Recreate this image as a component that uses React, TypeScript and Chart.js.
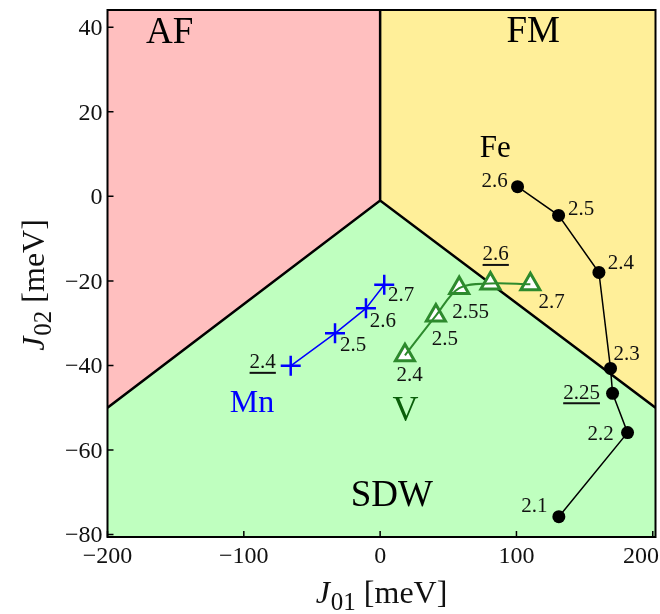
import React, { useEffect, useRef } from 'react';
import { Chart, registerables } from 'chart.js';

Chart.register(...registerables);

// ---- axis limits & ticks ----
const X_MIN = -200;
const X_MAX = 202;
const Y_MIN = -80.6;
const Y_MAX = 44.1;
const xTicks = [-200, -100, 0, 100, 200];
const yTicks = [-80, -60, -40, -20, 0, 20, 40];

// ---- phase boundaries (vertex + two ends) ----
const boundaryX = [-200, 0, 202];
const boundaryY = [-50, -1, -50];

// ---- Fe series ----
const feX = [100.8, 130.9, 160.5, 169.0, 170.5, 181.5, 131.1];
const feY = [2.3, -4.5, -18.0, -40.7, -46.6, -55.9, -75.8];
const feLabels = ['2.6', '2.5', '2.4', '2.3', '2.25', '2.2', '2.1'];

// ---- V series ----
const vX = [18.2, 40.9, 58.0, 80.9, 110.2];
const vY = [-37.6, -28.2, -21.7, -20.6, -20.8];
const vLabels = ['2.4', '2.5', '2.55', '2.6', '2.7'];

// ---- Mn series ----
const mnX = [-65.6, -33.1, -10.4, 3.0];
const mnY = [-40.1, -32.4, -26.5, -20.9];
const mnLabels = ['2.4', '2.5', '2.6', '2.7'];

// ---- region / species names ----
const regionNames = ['AF', 'FM', 'SDW'];
const regionNameX = [-154.4, 112.3, 8.6];
const regionNameY = [38.5, 38.8, -71.0];
const speciesNames = ['Fe', 'Mn', 'V'];
const speciesNameX = [84.4, -94.0, 18.6];
const speciesNameY = [11.3, -49.1, -50.9];

// ---- styles ----
const SERIF = '"Liberation Serif", "Times New Roman", serif';
const AF_COLOR = 'rgb(255,191,191)';
const FM_COLOR = 'rgb(255,239,153)';
const SDW_COLOR = 'rgb(191,255,191)';
const GREEN = 'rgb(45,138,45)';
const DARK_GREEN = 'rgb(10,95,10)';
const BLUE = 'rgb(0,0,255)';

// label offsets in pixels (text centre relative to marker)
const feOffsets = [[-23, -5], [22.5, -6], [22, -9], [16, -14], [-31, 0], [-27, 2], [-24.5, -10]];
const vOffsets = [[4.7, 20.3], [9, 23.7], [11.5, 24.2], [5.3, -28.5], [21.2, 17.8]];
const mnOffsets = [[-28, -3], [18, 12.5], [17, 13], [17, 11]];
const feUnder = [false, false, false, false, true, false, false];
const vUnder = [false, false, false, true, false];
const mnUnder = [true, false, false, false];

const fmt = (v: number) => (v < 0 ? '\u2212' + Math.abs(v) : String(v));

function drawAxisTitle(ctx: CanvasRenderingContext2D, sub: string) {
  const big = 32;
  const small = 25;
  const fJ = `italic ${big}px ${SERIF}`;
  const fSub = `${small}px ${SERIF}`;
  const fRest = `${big}px ${SERIF}`;
  const rest = ' [meV]';
  ctx.font = fJ;
  const wJ = ctx.measureText('J').width + 1;
  ctx.font = fSub;
  const wS = ctx.measureText(sub).width;
  ctx.font = fRest;
  const wR = ctx.measureText(rest).width;
  const total = wJ + wS + wR;
  let x = -total / 2;
  ctx.textAlign = 'left';
  ctx.textBaseline = 'alphabetic';
  ctx.font = fJ;
  ctx.fillText('J', x, 0);
  x += wJ;
  ctx.font = fSub;
  ctx.fillText(sub, x, 7);
  x += wS;
  ctx.font = fRest;
  ctx.fillText(rest, x, 0);
}

const phasePlugin = {
  id: 'phasePlugin',
  beforeDatasetsDraw(chart: any) {
    const { ctx, chartArea: a, scales } = chart;
    const xs = scales.x;
    const ys = scales.y;
    const px = (v: number) => xs.getPixelForValue(v);
    const py = (v: number) => ys.getPixelForValue(v);
    ctx.save();
    ctx.beginPath();
    ctx.rect(a.left, a.top, a.right - a.left, a.bottom - a.top);
    ctx.clip();
    const poly = (pts: number[][], color: string) => {
      ctx.beginPath();
      pts.forEach((p, i) => (i ? ctx.lineTo(px(p[0]), py(p[1])) : ctx.moveTo(px(p[0]), py(p[1]))));
      ctx.closePath();
      ctx.fillStyle = color;
      ctx.fill();
    };
    const [lx, vx, rx] = boundaryX;
    const [ly, vy, ry] = boundaryY;
    poly([[X_MIN - 10, Y_MAX + 10], [vx, Y_MAX + 10], [vx, vy], [lx, ly], [X_MIN - 10, ly]], AF_COLOR);
    poly([[vx, Y_MAX + 10], [X_MAX + 10, Y_MAX + 10], [X_MAX + 10, ry], [rx, ry], [vx, vy]], FM_COLOR);
    poly([[X_MIN - 10, ly], [lx, ly], [vx, vy], [rx, ry], [X_MAX + 10, ry], [X_MAX + 10, Y_MIN - 10], [X_MIN - 10, Y_MIN - 10]], SDW_COLOR);
    ctx.strokeStyle = '#000';
    ctx.lineWidth = 2.5;
    ctx.lineJoin = 'miter';
    ctx.beginPath();
    ctx.moveTo(px(lx), py(ly));
    ctx.lineTo(px(vx), py(vy));
    ctx.lineTo(px(rx), py(ry));
    ctx.moveTo(px(vx), py(vy));
    ctx.lineTo(px(vx), py(Y_MAX + 10));
    ctx.stroke();

    // region names
    ctx.fillStyle = '#000';
    ctx.textAlign = 'center';
    ctx.textBaseline = 'middle';
    ctx.font = `37px ${SERIF}`;
    regionNames.forEach((t, i) => ctx.fillText(t, px(regionNameX[i]), py(regionNameY[i])));
    ctx.restore();
  },
  afterDatasetsDraw(chart: any) {
    const { ctx, scales } = chart;
    const xs = scales.x;
    const ys = scales.y;
    const px = (v: number) => xs.getPixelForValue(v);
    const py = (v: number) => ys.getPixelForValue(v);
    ctx.save();
    ctx.textAlign = 'center';
    ctx.textBaseline = 'middle';
    const numbers = (xv: number[], yv: number[], labels: string[], offs: number[][], under: boolean[]) => {
      ctx.font = `21px ${SERIF}`;
      ctx.fillStyle = '#111';
      ctx.strokeStyle = '#111';
      labels.forEach((t, i) => {
        const cx = px(xv[i]) + offs[i][0];
        const cy = py(yv[i]) + offs[i][1];
        ctx.fillText(t, cx, cy);
        if (under[i]) {
          const w = ctx.measureText(t).width;
          ctx.lineWidth = 2;
          ctx.beginPath();
          ctx.moveTo(cx - w / 2, cy + 10);
          ctx.lineTo(cx + w / 2, cy + 10);
          ctx.stroke();
        }
      });
    };
    numbers(feX, feY, feLabels, feOffsets, feUnder);
    numbers(vX, vY, vLabels, vOffsets, vUnder);
    numbers(mnX, mnY, mnLabels, mnOffsets, mnUnder);

    const specColors = ['#000', BLUE, DARK_GREEN];
    const specSizes = [31, 32, 36];
    speciesNames.forEach((t, i) => {
      ctx.font = `${specSizes[i]}px ${SERIF}`;
      ctx.fillStyle = specColors[i];
      ctx.fillText(t, px(speciesNameX[i]), py(speciesNameY[i]));
    });
    ctx.restore();
  },
  afterDraw(chart: any) {
    const { ctx, chartArea: a, scales, width } = chart;
    const xs = scales.x;
    const ys = scales.y;
    ctx.save();
    // frame
    ctx.strokeStyle = '#000';
    ctx.lineWidth = 2;
    ctx.strokeRect(a.left, a.top, a.right - a.left, a.bottom - a.top);
    // inward ticks
    ctx.lineWidth = 1.5;
    ctx.beginPath();
    xs.ticks.forEach((t: any) => {
      const x = xs.getPixelForValue(t.value);
      ctx.moveTo(x, a.bottom);
      ctx.lineTo(x, a.bottom - 6);
    });
    ys.ticks.forEach((t: any) => {
      const y = ys.getPixelForValue(t.value);
      ctx.moveTo(a.left, y);
      ctx.lineTo(a.left + 6, y);
    });
    ctx.stroke();
    // tick labels
    ctx.fillStyle = '#111';
    ctx.font = `24px ${SERIF}`;
    ctx.textBaseline = 'alphabetic';
    ctx.textAlign = 'left';
    xs.ticks.forEach((t: any) => {
      const s = fmt(t.value);
      const w = ctx.measureText(s).width;
      let left = xs.getPixelForValue(t.value) - w / 2;
      if (left + w > width - 1) left = width - 1 - w;
      ctx.fillText(s, left, a.bottom + 26);
    });
    ctx.textAlign = 'right';
    ys.ticks.forEach((t: any) => {
      ctx.fillText(fmt(t.value), a.left - 5, ys.getPixelForValue(t.value) + 8);
    });
    // axis titles
    ctx.fillStyle = '#111';
    ctx.save();
    ctx.translate((a.left + a.right) / 2, 603);
    drawAxisTitle(ctx, '01');
    ctx.restore();
    ctx.save();
    ctx.translate(43.5, 285);
    ctx.rotate(-Math.PI / 2);
    drawAxisTitle(ctx, '02');
    ctx.restore();
    ctx.restore();
  },
};

export default function App() {
  const ref = useRef<HTMLCanvasElement | null>(null);
  useEffect(() => {
    if (!ref.current) return;
    const pts = (xv: number[], yv: number[]) => xv.map((x, i) => ({ x, y: yv[i] }));
    const chart = new Chart(ref.current, {
      type: 'scatter',
      data: {
        datasets: [
          {
            label: 'Fe',
            data: pts(feX, feY),
            showLine: true,
            borderColor: '#000',
            borderWidth: 1.5,
            pointStyle: 'circle',
            pointRadius: 6.5,
            pointBackgroundColor: '#000',
            pointBorderColor: '#000',
            pointBorderWidth: 0,
            order: 4,
          },
          {
            label: 'V markers',
            data: pts(vX, vY),
            showLine: false,
            pointStyle: 'triangle',
            pointRadius: 11,
            pointBackgroundColor: '#fff',
            pointBorderColor: GREEN,
            pointBorderWidth: 3,
            order: 3,
          },
          {
            label: 'V',
            data: pts(vX, vY),
            showLine: true,
            borderColor: GREEN,
            borderWidth: 2,
            tension: 0.35,
            pointRadius: 0,
            order: 2,
          },
          {
            label: 'Mn',
            data: pts(mnX, mnY),
            showLine: true,
            borderColor: BLUE,
            borderWidth: 1.5,
            pointStyle: 'cross',
            pointRadius: 10,
            pointBorderColor: BLUE,
            pointBorderWidth: 2.5,
            order: 1,
          },
        ] as any,
      },
      options: {
        animation: false,
        responsive: false,
        devicePixelRatio: 1,
        layout: { autoPadding: false, padding: { left: 0, right: 4.5, top: 10, bottom: 0 } },
        plugins: { legend: { display: false }, tooltip: { enabled: false } },
        scales: {
          x: {
            type: 'linear',
            min: X_MIN,
            max: X_MAX,
            grid: { display: false, drawTicks: false },
            border: { display: false },
            ticks: { display: false },
            afterBuildTicks: (s: any) => {
              s.ticks = xTicks.map((v) => ({ value: v }));
            },
            afterFit: (s: any) => {
              s.height = 77;
              s.paddingLeft = 0;
              s.paddingRight = 0;
            },
          },
          y: {
            type: 'linear',
            min: Y_MIN,
            max: Y_MAX,
            grid: { display: false, drawTicks: false },
            border: { display: false },
            ticks: { display: false },
            afterBuildTicks: (s: any) => {
              s.ticks = yTicks.map((v) => ({ value: v }));
            },
            afterFit: (s: any) => {
              s.width = 107.5;
              s.paddingTop = 0;
              s.paddingBottom = 0;
            },
          },
        },
      } as any,
      plugins: [phasePlugin],
    });
    return () => chart.destroy();
  }, []);
  return (
    <div style={{ position: 'fixed', left: 0, top: 0, width: 660, height: 614, background: '#fff' }}>
      <canvas ref={ref} width={660} height={614} style={{ display: 'block' }} />
    </div>
  );
}
